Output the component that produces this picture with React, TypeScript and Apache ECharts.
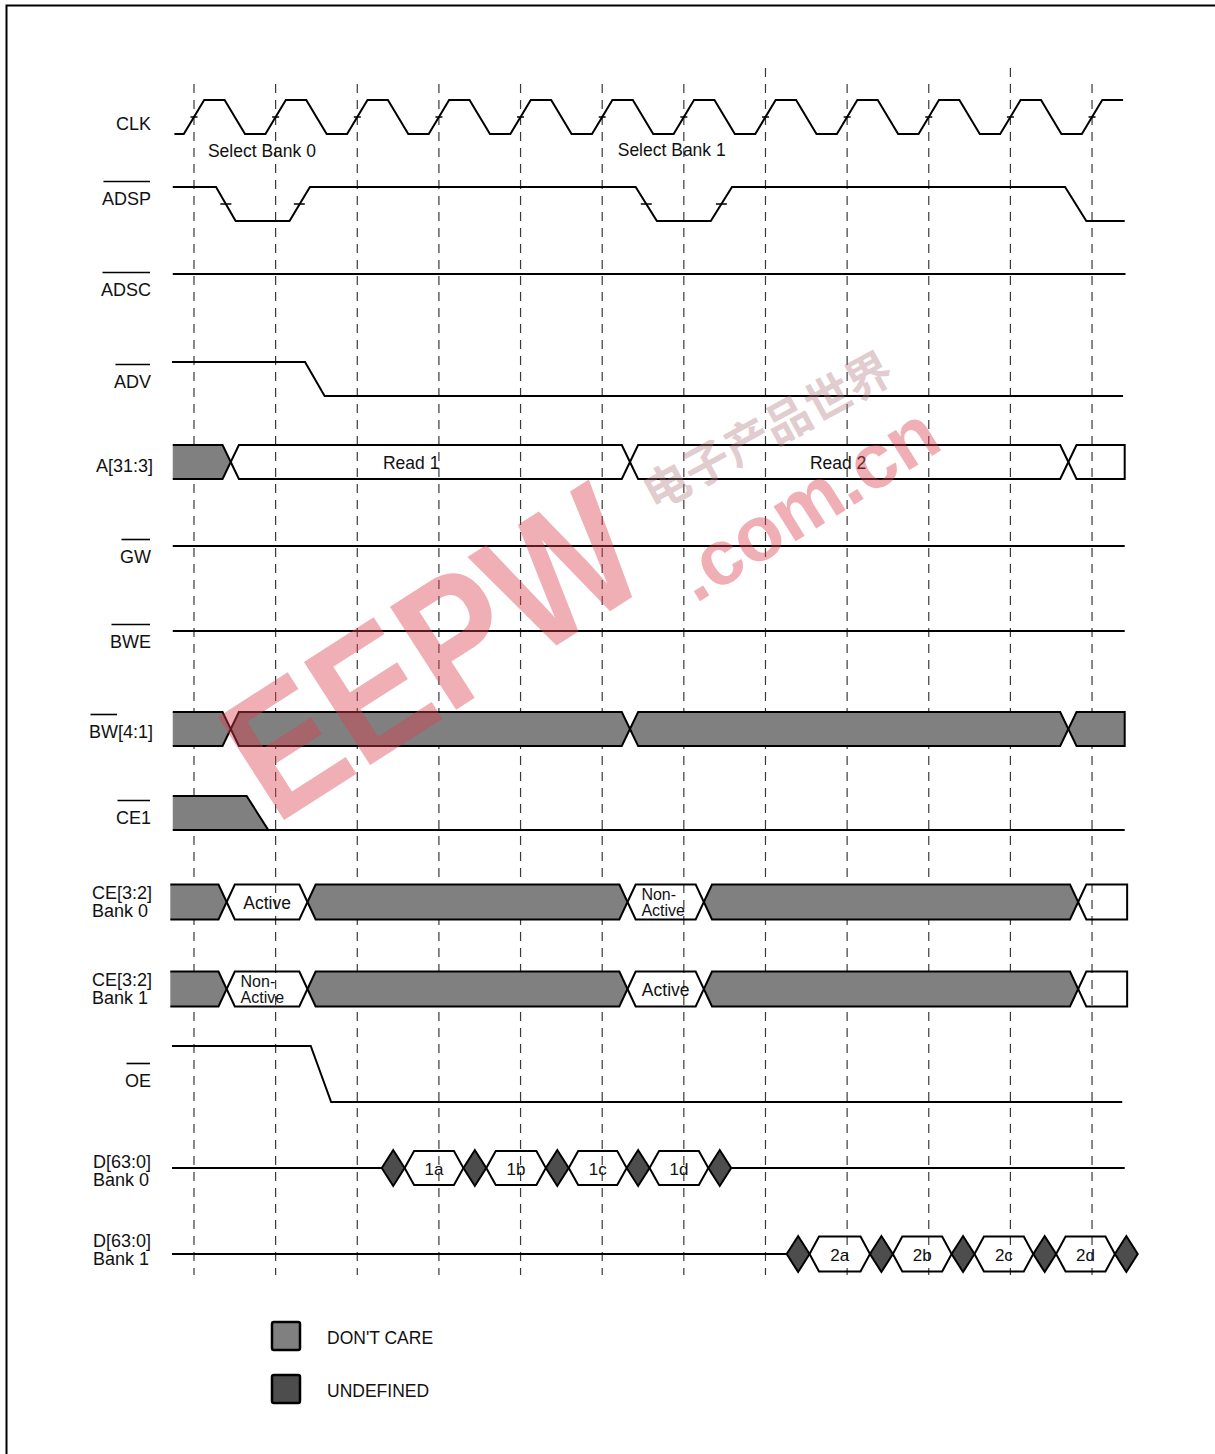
import React, { useEffect, useRef } from "react";
import * as echarts from "echarts";

// ---------------- data (time in clock cycles, level 1 = high, 0 = low) ----------------
const CLK_RISE = [0, 1, 2, 3, 4, 5, 6, 7, 8, 9, 10, 11];
const CLK_FALL = [0.5, 1.5, 2.5, 3.5, 4.5, 5.5, 6.5, 7.5, 8.5, 9.5, 10.5];
const CLK_START = -0.24;
const CLK_END = 11.38;

const ADSP_WAVE = [[-0.26, 1], [0.27, 1], [0.51, 0], [1.17, 0], [1.42, 1], [5.41, 1], [5.67, 0], [6.33, 0], [6.59, 1], [10.67, 1], [10.93, 0], [11.4, 0]];
const ADSP_TICKS = [0.39, 1.29, 5.54, 6.46];
const ADSC_WAVE = [[-0.26, 1], [11.41, 1]];
const ADV_WAVE = [[-0.27, 1], [1.36, 1], [1.6, 0], [11.38, 0]];
const GW_WAVE = [[-0.26, 1], [11.4, 1]];
const BWE_WAVE = [[-0.26, 1], [11.4, 1]];
const CE1_WAVE = [[-0.26, 1], [0.645, 1], [0.91, 0], [11.4, 0]];
const OE_WAVE = [[-0.27, 1], [1.43, 1], [1.68, 0], [11.37, 0]];

const A_BOUNDS = [-0.26, 0.45, 5.34, 10.71, 11.4];
const A_STATES = ["x", "v", "v", "v"];
const A_WORDS = ["", "Read 1", "Read 2", ""];
const A_WORD_AT = [0, 2.66, 7.89, 0];

const BW_BOUNDS = [-0.26, 0.45, 5.34, 10.71, 11.4];
const BW_STATES = ["x", "x", "x", "x"];

const CE_BOUNDS = [-0.29, 0.4, 1.39, 5.31, 6.245, 10.83, 11.43];
const CE0_STATES = ["x", "v", "x", "v", "x", "v"];
const CE0_WORDS = ["", "Active", "", "Non-\nActive", "", ""];
const CE1B_STATES = ["x", "v", "x", "v", "x", "v"];
const CE1B_WORDS = ["", "Non-\nActive", "", "Active", "", ""];

const D0_UNDEF = [2.44, 3.44, 4.45, 5.44, 6.44];
const D0_WORDS = ["1a", "1b", "1c", "1d"];
const D0_LINE_START = -0.27;
const D0_LINE_END = 11.4;
const D1_UNDEF = [7.4, 8.42, 9.42, 10.42, 11.42];
const D1_WORDS = ["2a", "2b", "2c", "2d"];
const D1_LINE_START = -0.27;

const GUIDE_TIMES = [0, 1, 2, 3, 4, 5, 6, 7, 8, 9, 10, 11];
const GUIDE_TALL = [7, 10];

const ANNOTATIONS = ["Select Bank 0", "Select Bank 1"];
const ANNOTATION_AT = [0.17, 5.19];

const SIGNAL_NAMES = [
  { lines: ["CLK"], bar: "" },
  { lines: ["ADSP"], bar: "ADSP" },
  { lines: ["ADSC"], bar: "ADSC" },
  { lines: ["ADV"], bar: "ADV" },
  { lines: ["A[31:3]"], bar: "" },
  { lines: ["GW"], bar: "GW" },
  { lines: ["BWE"], bar: "BWE" },
  { lines: ["BW[4:1]"], bar: "BW" },
  { lines: ["CE1"], bar: "CE1" },
  { lines: ["CE[3:2]", "Bank 0"], bar: "" },
  { lines: ["CE[3:2]", "Bank 1"], bar: "" },
  { lines: ["OE"], bar: "OE" },
  { lines: ["D[63:0]", "Bank 0"], bar: "" },
  { lines: ["D[63:0]", "Bank 1"], bar: "" },
];

const LEGEND_LABELS = ["DON'T CARE", "UNDEFINED"];
const LEGEND_STATES = ["x", "u"];

// ---------------- layout & style ----------------
const W = 1215;
const H = 1454;
const X0 = 194; // pixel of t = 0
const DX = 81.64; // pixels per clock cycle
const FONT = '"Liberation Sans", Arial, Helvetica, sans-serif';
const FILLS: Record<string, string> = { x: "#808080", v: "none", u: "#4d4d4d" };
const CLK_EDGE = 0.25;
const BUS_SLOPE = 0.1;
const HEX_SLOPE = 0.116;
const DIAMOND_HW = 0.14;
const DIAMOND_H = 36;

type LaneKey = string;
const LANES: Record<LaneKey, { c: number; h: number }> = {
  clk: { c: 117, h: 34 },
  adsp: { c: 204, h: 34 },
  adsc: { c: 291, h: 34 },
  adv: { c: 379, h: 34 },
  a: { c: 462, h: 34 },
  gw: { c: 563, h: 34 },
  bwe: { c: 648, h: 34 },
  bw: { c: 729, h: 34 },
  ce1: { c: 813, h: 34 },
  ce0b: { c: 902, h: 35 },
  ce1b: { c: 989, h: 35 },
  oe: { c: 1074, h: 56 },
  d0: { c: 1168, h: 34 },
  d1: { c: 1254, h: 35 },
};

// name label layout: [x, y of first line, align]
const NAME_LAYOUT: [number, number, string][] = [
  [151, 124, "right"],
  [151, 199, "right"],
  [151, 290, "right"],
  [151, 382, "right"],
  [153, 466, "right"],
  [151, 557, "right"],
  [151, 642, "right"],
  [153, 732, "right"],
  [151, 818, "right"],
  [92, 893, "left"],
  [92, 980, "left"],
  [151, 1081, "right"],
  [93, 1162, "left"],
  [93, 1241, "left"],
];
const NAME_LINE_GAP = 18;
const GUIDE_TOP = 84;
const GUIDE_TOP_TALL = 68;
const GUIDE_BOTTOM = 1275;
const ANNOT_Y = [151, 150];

const ly = (lane: LaneKey, level: number) => {
  const L = LANES[lane];
  return L.c + L.h / 2 - level * L.h;
};

type Seg = { lane: LaneKey; t0: number; t1: number; sx: boolean; ex: boolean; state: string; s: number };
type TextItem = { t: number; y: number; text: string; align: string; size: number };

function busSegs(lane: LaneKey, bounds: number[], states: string[]): Seg[] {
  const out: Seg[] = [];
  for (let i = 0; i < states.length; i++) {
    out.push({ lane, t0: bounds[i], t1: bounds[i + 1], sx: i > 0, ex: i < states.length - 1, state: states[i], s: BUS_SLOPE });
  }
  return out;
}
function hexSegs(lane: LaneKey, undef: number[]): Seg[] {
  const out: Seg[] = [];
  for (let i = 0; i < undef.length - 1; i++) {
    out.push({ lane, t0: undef[i] + DIAMOND_HW, t1: undef[i + 1] - DIAMOND_HW, sx: true, ex: true, state: "v", s: HEX_SLOPE });
  }
  return out;
}
function busWords(lane: LaneKey, bounds: number[], words: string[], at?: number[]): TextItem[] {
  const out: TextItem[] = [];
  const c = LANES[lane].c;
  words.forEach((w, i) => {
    if (!w) return;
    const parts = w.split("\n");
    if (parts.length > 1) {
      parts.forEach((p, k) => out.push({ t: bounds[i] + 0.17, y: c - 8 + k * 16, text: p, align: "left", size: 16 }));
    } else {
      const t = at && at[i] ? at[i] : (bounds[i] + bounds[i + 1]) / 2;
      out.push({ t, y: c + 1, text: w, align: "center", size: 17.5 });
    }
  });
  return out;
}
function hexWords(lane: LaneKey, undef: number[], words: string[]): TextItem[] {
  return words.map((w, i) => ({ t: (undef[i] + undef[i + 1]) / 2, y: LANES[lane].c + 1, text: w, align: "center", size: 17 }));
}

function buildClock(): number[][] {
  const edges = [...CLK_RISE.map((t) => ({ t, up: true })), ...CLK_FALL.map((t) => ({ t, up: false }))].sort((a, b) => a.t - b.t);
  const pts: number[][] = [[CLK_START, 0]];
  for (const e of edges) {
    pts.push([e.t - CLK_EDGE / 2, e.up ? 0 : 1]);
    pts.push([e.t + CLK_EDGE / 2, e.up ? 1 : 0]);
  }
  pts.push([CLK_END, 1]);
  return pts;
}

const measureCtx = typeof document !== "undefined" ? document.createElement("canvas").getContext("2d") : null;
function textWidth(text: string, font: string) {
  if (!measureCtx) return text.length * 10;
  measureCtx.font = font;
  return measureCtx.measureText(text).width;
}

function buildOption() {
  const waves: [number[][], LaneKey][] = [
    [buildClock(), "clk"],
    [ADSP_WAVE, "adsp"],
    [ADSC_WAVE, "adsc"],
    [ADV_WAVE, "adv"],
    [GW_WAVE, "gw"],
    [BWE_WAVE, "bwe"],
    [CE1_WAVE, "ce1"],
    [OE_WAVE, "oe"],
    [[[D0_LINE_START, 0.5], [D0_UNDEF[0] - DIAMOND_HW, 0.5]], "d0"],
    [[[D0_UNDEF[D0_UNDEF.length - 1] + DIAMOND_HW, 0.5], [D0_LINE_END, 0.5]], "d0"],
    [[[D1_LINE_START, 0.5], [D1_UNDEF[0] - DIAMOND_HW, 0.5]], "d1"],
  ];
  const lineSeries = waves.map(([wave, lane]) => ({
    type: "line",
    data: wave.map(([t, l]) => [t, ly(lane, l)]),
    symbol: "none",
    showSymbol: false,
    silent: true,
    z: 3,
    lineStyle: { color: "#000", width: 2, join: "miter" },
  }));

  const segs: Seg[] = [
    ...busSegs("a", A_BOUNDS, A_STATES),
    ...busSegs("bw", BW_BOUNDS, BW_STATES),
    ...busSegs("ce0b", CE_BOUNDS, CE0_STATES),
    ...busSegs("ce1b", CE_BOUNDS, CE1B_STATES),
    ...hexSegs("d0", D0_UNDEF),
    ...hexSegs("d1", D1_UNDEF),
  ];

  const diamonds = [...D0_UNDEF.map((t) => ({ t, lane: "d0" })), ...D1_UNDEF.map((t) => ({ t, lane: "d1" }))];

  const texts: TextItem[] = [
    ...busWords("a", A_BOUNDS, A_WORDS, A_WORD_AT),
    ...busWords("ce0b", CE_BOUNDS, CE0_WORDS),
    ...busWords("ce1b", CE_BOUNDS, CE1B_WORDS),
    ...hexWords("d0", D0_UNDEF, D0_WORDS),
    ...hexWords("d1", D1_UNDEF, D1_WORDS),
    ...ANNOTATIONS.map((a, i) => ({ t: ANNOTATION_AT[i], y: ANNOT_Y[i], text: a, align: "left", size: 17.5 })),
  ];

  const ticks = [...CLK_RISE.map((t) => ({ t, lane: "clk", w: 7 })), ...ADSP_TICKS.map((t) => ({ t, lane: "adsp", w: 11 }))];

  const guideSeries = {
    type: "custom",
    silent: true,
    z: 1,
    data: GUIDE_TIMES.map((t) => [t, GUIDE_BOTTOM]),
    renderItem: (params: any, api: any) => {
      const t = GUIDE_TIMES[params.dataIndex];
      const top = GUIDE_TALL.includes(t) ? GUIDE_TOP_TALL : GUIDE_TOP;
      const p0 = api.coord([t, top]);
      const p1 = api.coord([t, GUIDE_BOTTOM]);
      return {
        type: "line",
        shape: { x1: p0[0], y1: p0[1], x2: p1[0], y2: p1[1] },
        style: { stroke: "#3a3a3a", lineWidth: 1.2, lineDash: [9, 7] },
      };
    },
  };

  const busSeries = {
    type: "custom",
    silent: true,
    z: 2,
    data: segs.map((s, i) => [s.t0, LANES[s.lane].c, i]),
    renderItem: (params: any, api: any) => {
      const s = segs[params.dataIndex];
      const L = LANES[s.lane];
      const top = L.c - L.h / 2;
      const bot = L.c + L.h / 2;
      const P = (t: number, y: number) => api.coord([t, y]);
      const topPts = s.sx ? [P(s.t0, L.c), P(s.t0 + s.s, top)] : [P(s.t0, top)];
      const endPts = s.ex ? [P(s.t1 - s.s, top), P(s.t1, L.c), P(s.t1 - s.s, bot)] : [P(s.t1, top), P(s.t1, bot)];
      const botPts = s.sx ? [P(s.t0 + s.s, bot), P(s.t0, L.c)] : [P(s.t0, bot)];
      const outline = [...topPts, ...endPts, ...botPts];
      const children: any[] = [];
      if (FILLS[s.state] !== "none") {
        children.push({ type: "polygon", shape: { points: outline }, style: { fill: FILLS[s.state], stroke: "none" } });
      }
      children.push({ type: "polyline", shape: { points: outline }, style: { stroke: "#000", lineWidth: 2, fill: "none", lineJoin: "miter" } });
      return { type: "group", children };
    },
  };

  const ce1Series = {
    type: "custom",
    silent: true,
    z: 2,
    data: [[CE1_WAVE[0][0], LANES.ce1.c]],
    renderItem: (_p: any, api: any) => {
      const top = ly("ce1", 1);
      const bot = ly("ce1", 0);
      const pts = [api.coord([CE1_WAVE[0][0], top]), api.coord([CE1_WAVE[1][0], top]), api.coord([CE1_WAVE[2][0], bot]), api.coord([CE1_WAVE[0][0], bot])];
      return {
        type: "group",
        children: [
          { type: "polygon", shape: { points: pts }, style: { fill: FILLS.x, stroke: "none" } },
          { type: "polyline", shape: { points: [pts[3], pts[2]] }, style: { stroke: "#000", lineWidth: 2, fill: "none" } },
        ],
      };
    },
  };

  const diamondSeries = {
    type: "custom",
    silent: true,
    z: 3,
    data: diamonds.map((d) => [d.t, LANES[d.lane].c]),
    renderItem: (params: any, api: any) => {
      const d = diamonds[params.dataIndex];
      const c = LANES[d.lane].c;
      const pts = [
        api.coord([d.t - DIAMOND_HW, c]),
        api.coord([d.t, c - DIAMOND_H / 2]),
        api.coord([d.t + DIAMOND_HW, c]),
        api.coord([d.t, c + DIAMOND_H / 2]),
      ];
      return { type: "polygon", shape: { points: pts }, style: { fill: FILLS.u, stroke: "#000", lineWidth: 2, lineJoin: "miter" } };
    },
  };

  const tickSeries = {
    type: "custom",
    silent: true,
    z: 4,
    data: ticks.map((k) => [k.t, LANES[k.lane].c]),
    renderItem: (params: any, api: any) => {
      const k = ticks[params.dataIndex];
      const p = api.coord([k.t, LANES[k.lane].c]);
      return {
        type: "line",
        shape: { x1: p[0] - k.w / 2, y1: p[1], x2: p[0] + k.w / 2, y2: p[1] },
        style: { stroke: "#000", lineWidth: 1.5 },
      };
    },
  };

  const textSeries = {
    type: "custom",
    silent: true,
    z: 5,
    data: texts.map((x) => [x.t, x.y]),
    renderItem: (params: any, api: any) => {
      const it = texts[params.dataIndex];
      const p = api.coord([it.t, it.y]);
      return {
        type: "text",
        x: p[0],
        y: p[1],
        style: {
          text: it.text,
          textAlign: it.align,
          textVerticalAlign: "middle",
          font: `${it.size}px ${FONT}`,
          fill: "#111",
        },
      };
    },
  };

  // ---- graphic: signal names, overbars, legend, frame, watermark ----
  const graphic: any[] = [];
  SIGNAL_NAMES.forEach((s, i) => {
    const [x, y, align] = NAME_LAYOUT[i];
    const font = `18px ${FONT}`;
    s.lines.forEach((line, k) => {
      graphic.push({
        type: "text",
        x,
        y: y + k * NAME_LINE_GAP,
        silent: true,
        style: { text: line, font, fill: "#111", textAlign: align, textVerticalAlign: "middle" },
      });
    });
    if (s.bar) {
      const full = textWidth(s.lines[0], font);
      const barW = textWidth(s.bar, font);
      const left = align === "right" ? x - full : x;
      graphic.push({
        type: "line",
        silent: true,
        shape: { x1: left + 1.5, y1: y - 17.5, x2: left + barW - 1, y2: y - 17.5 },
        style: { stroke: "#000", lineWidth: 1.6 },
      });
    }
  });

  LEGEND_LABELS.forEach((label, i) => {
    const y = 1322 + i * 53;
    graphic.push({
      type: "rect",
      silent: true,
      shape: { x: 272, y, width: 28, height: 28, r: 2 },
      style: { fill: FILLS[LEGEND_STATES[i]], stroke: "#000", lineWidth: 2.5 },
    });
    graphic.push({
      type: "text",
      silent: true,
      x: 327,
      y: y + 15.5,
      style: { text: label, font: `17.5px ${FONT}`, fill: "#111", textAlign: "left", textVerticalAlign: "middle" },
    });
  });

  graphic.push({
    type: "polyline",
    silent: true,
    shape: { points: [[6.5, H + 10], [6.5, 5.5], [W + 10, 5.5]] },
    style: { stroke: "#000", lineWidth: 2, fill: "none" },
  });

  // watermark
  graphic.push({
    type: "text",
    silent: true,
    x: 432,
    y: 652,
    rotation: 0.57,
    scaleX: 0.86,
    z: 50,
    style: { text: "EEPW", font: `bold 178px ${FONT}`, fill: "#d9414c", opacity: 0.42, textAlign: "center", textVerticalAlign: "middle" },
  });
  graphic.push({
    type: "text",
    silent: true,
    x: 766,
    y: 428,
    rotation: 0.5,
    z: 50,
    style: { text: "电子产品世界", font: `bold 46px "Noto Sans CJK SC"`, fill: "#b07a80", opacity: 0.4, textAlign: "center", textVerticalAlign: "middle" },
  });
  graphic.push({
    type: "text",
    silent: true,
    x: 806,
    y: 503,
    rotation: 0.56,
    z: 50,
    style: { text: ".com.cn", font: `bold 78px ${FONT}`, fill: "#d9414c", opacity: 0.42, textAlign: "center", textVerticalAlign: "middle" },
  });

  return {
    animation: false,
    backgroundColor: "#fff",
    grid: { left: 0, right: 0, top: 0, bottom: 0, containLabel: false },
    xAxis: { type: "value", min: -X0 / DX, max: (W - X0) / DX, show: false },
    yAxis: { type: "value", min: 0, max: H, inverse: true, show: false },
    series: [guideSeries, busSeries, ce1Series, ...lineSeries, diamondSeries, tickSeries, textSeries],
    graphic,
  };
}

export default function App() {
  const ref = useRef<HTMLDivElement>(null);
  useEffect(() => {
    if (!ref.current) return;
    const chart = echarts.init(ref.current, undefined, { renderer: "svg" });
    chart.setOption(buildOption() as any);
    return () => chart.dispose();
  }, []);
  return <div ref={ref} style={{ position: "absolute", left: 0, top: 0, width: W, height: H, background: "#fff" }} />;
}
